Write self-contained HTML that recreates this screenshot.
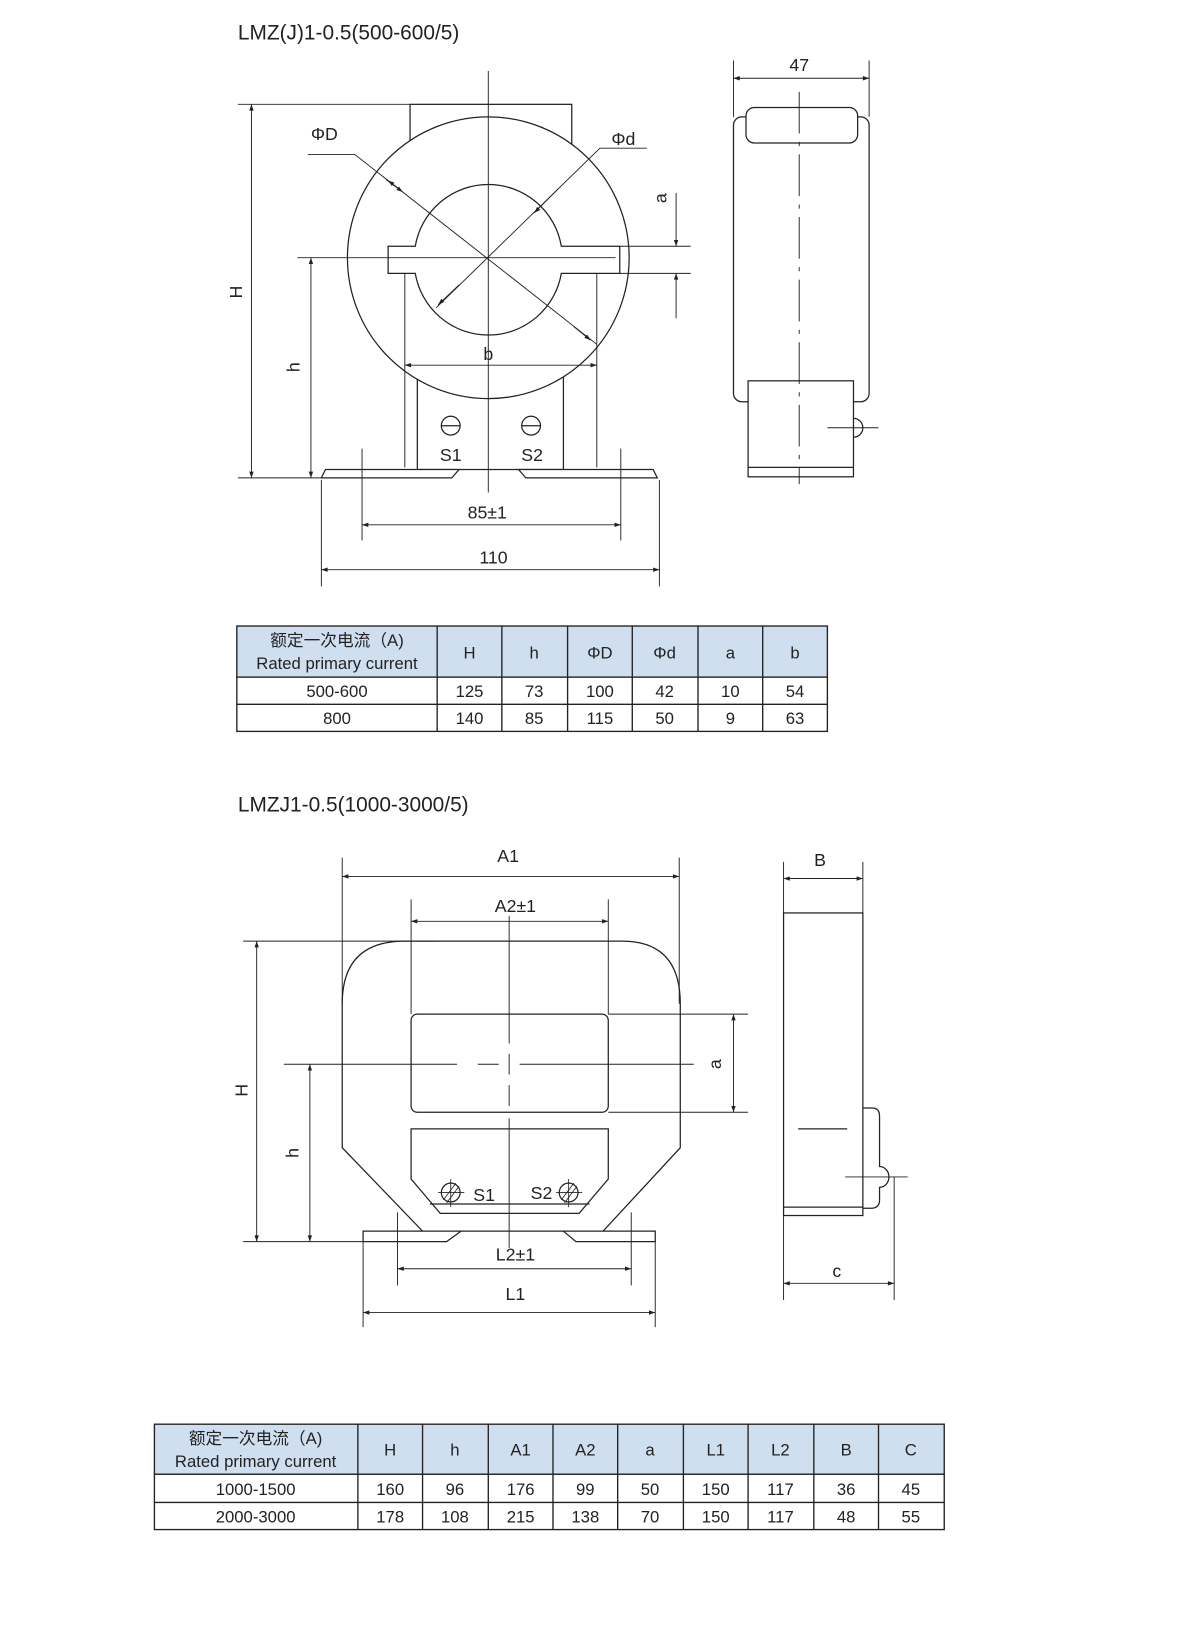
<!DOCTYPE html>
<html><head><meta charset="utf-8"><style>
html,body{margin:0;padding:0;background:#fff;}
svg{display:block;}
text{font-family:"Liberation Sans","Noto Sans CJK SC",sans-serif;fill:#222;}
</style></head><body>
<svg width="1179" height="1636" viewBox="0 0 1130 1568" preserveAspectRatio="none" xmlns="http://www.w3.org/2000/svg">
<defs>
<marker id="ar" viewBox="0 0 10 10" refX="10" refY="5" markerWidth="10" markerHeight="6" orient="auto-start-reverse" markerUnits="userSpaceOnUse"><path d="M0,1.5 L10,5 L0,8.5 Z" fill="#222"/></marker>
</defs>
<g stroke="#222" stroke-width="1.2" fill="none">
<!-- ===== Drawing 1 ===== -->
<rect x="393" y="100" width="155" height="60" fill="#fff"/>
<rect x="400" y="350" width="140" height="100" fill="#fff"/>
<circle cx="468" cy="247" r="135" fill="#fff"/>
<path d="M398,236 A71 71 0 0 1 538,236 L594,236 L594,262 L538,262 A71 71 0 0 1 398,262 L372,262 L372,236 Z" fill="#fff"/>
<circle cx="432" cy="408" r="9"/><line x1="423" y1="408" x2="441" y2="408"/>
<circle cx="509" cy="408" r="9"/><line x1="500" y1="408" x2="518" y2="408"/>
<path d="M308,458 L312,450 L440,450 L433,458 Z" fill="#fff"/>
<path d="M497,450 L626,450 L630,458 L504,458 Z" fill="#fff"/>
<line x1="468" y1="68" x2="468" y2="472" stroke-width="0.9"/>
<line x1="285" y1="247" x2="590" y2="247" stroke-width="0.9"/>
<!-- H -->
<line x1="228" y1="100" x2="393" y2="100" stroke-width="0.9"/>
<line x1="228" y1="458" x2="308" y2="458" stroke-width="0.9"/>
<line x1="241" y1="100" x2="241" y2="458" marker-start="url(#ar)" marker-end="url(#ar)" stroke-width="0.9"/>
<line x1="298" y1="247" x2="298" y2="458" marker-start="url(#ar)" marker-end="url(#ar)" stroke-width="0.9"/>
<!-- ΦD -->
<polyline points="295,148 340,148 572,330" stroke-width="0.9"/>
<line x1="385" y1="183" x2="372" y2="173" marker-end="url(#ar)" stroke-width="0.9"/>
<line x1="370" y1="172" x2="386" y2="184" marker-end="url(#ar)" stroke-width="0.9"/>
<line x1="550" y1="313" x2="566" y2="326" marker-end="url(#ar)" stroke-width="0.9"/>
<!-- Φd -->
<polyline points="620,142 575,142 418,295" stroke-width="0.9"/>
<line x1="535" y1="181" x2="512" y2="204" marker-end="url(#ar)" stroke-width="0.9"/>
<line x1="440" y1="273" x2="420" y2="292" marker-end="url(#ar)" stroke-width="0.9"/>
<!-- a -->
<line x1="594" y1="236" x2="662" y2="236" stroke-width="0.9"/>
<line x1="594" y1="262" x2="662" y2="262" stroke-width="0.9"/>
<line x1="648" y1="185" x2="648" y2="236" marker-end="url(#ar)" stroke-width="0.9"/>
<line x1="648" y1="305" x2="648" y2="262" marker-end="url(#ar)" stroke-width="0.9"/>
<!-- b -->
<line x1="388" y1="262" x2="388" y2="448" stroke-width="0.9"/>
<line x1="572" y1="262" x2="572" y2="448" stroke-width="0.9"/>
<line x1="388" y1="350" x2="572" y2="350" marker-start="url(#ar)" marker-end="url(#ar)" stroke-width="0.9"/>
<!-- 85 -->
<line x1="347" y1="430" x2="347" y2="518" stroke-width="0.9"/>
<line x1="595" y1="430" x2="595" y2="518" stroke-width="0.9"/>
<line x1="347" y1="503" x2="595" y2="503" marker-start="url(#ar)" marker-end="url(#ar)" stroke-width="0.9"/>
<!-- 110 -->
<line x1="308" y1="460" x2="308" y2="562" stroke-width="0.9"/>
<line x1="632" y1="460" x2="632" y2="562" stroke-width="0.9"/>
<line x1="308" y1="546" x2="632" y2="546" marker-start="url(#ar)" marker-end="url(#ar)" stroke-width="0.9"/>
<!-- side view 1 -->
<line x1="703" y1="58" x2="703" y2="112" stroke-width="0.9"/>
<line x1="833" y1="58" x2="833" y2="112" stroke-width="0.9"/>
<line x1="703" y1="75" x2="833" y2="75" marker-start="url(#ar)" marker-end="url(#ar)" stroke-width="0.9"/>
<rect x="703" y="112" width="130" height="273" rx="8" fill="#fff"/>
<rect x="715" y="103" width="107" height="34" rx="8" fill="#fff"/>
<rect x="717" y="365" width="101" height="92" fill="#fff"/>
<line x1="717" y1="448" x2="818" y2="448"/>
<path d="M818,401 A9 9 0 0 1 818,419"/>
<line x1="793" y1="410" x2="842" y2="410" stroke-width="0.9"/>
<line x1="766" y1="88" x2="766" y2="464" stroke-width="0.9" stroke-dasharray="40,8,4,8"/>

<!-- ===== Drawing 2 ===== -->
<path d="M328,1100 L328,962 Q328,902 388,902 L596,902 Q652,902 652,962 L652,1100 L578,1180 L405,1180 Z" fill="#fff"/>
<rect x="394" y="972" width="189" height="94" rx="6" fill="#fff"/>
<path d="M394,1082 L583,1082 L583,1130 L555,1163 L422,1163 L394,1130 Z" fill="#fff"/>
<line x1="412" y1="1154" x2="565" y2="1154"/>
<circle cx="432" cy="1143" r="9"/>
<line x1="420" y1="1143" x2="445" y2="1143" stroke-width="0.8"/><line x1="432" y1="1130" x2="432" y2="1157" stroke-width="0.8"/>
<line x1="425" y1="1150" x2="437" y2="1134" stroke-width="0.8"/><line x1="428" y1="1153" x2="440" y2="1137" stroke-width="0.8"/>
<circle cx="545" cy="1143" r="9"/>
<line x1="533" y1="1143" x2="558" y2="1143" stroke-width="0.8"/><line x1="545" y1="1130" x2="545" y2="1157" stroke-width="0.8"/>
<line x1="538" y1="1150" x2="550" y2="1134" stroke-width="0.8"/><line x1="541" y1="1153" x2="553" y2="1137" stroke-width="0.8"/>
<path d="M348,1180 L442,1180 L428,1190 L348,1190 Z" fill="#fff"/>
<path d="M540,1180 L628,1180 L628,1190 L552,1190 Z" fill="#fff"/>
<line x1="488" y1="878" x2="488" y2="1000" stroke-width="0.9"/>
<line x1="488" y1="1010" x2="488" y2="1030" stroke-width="0.9"/>
<line x1="488" y1="1040" x2="488" y2="1060" stroke-width="0.9"/>
<line x1="488" y1="1072" x2="488" y2="1196" stroke-width="0.9"/>
<line x1="272" y1="1020" x2="438" y2="1020" stroke-width="0.9"/>
<line x1="458" y1="1020" x2="478" y2="1020" stroke-width="0.9"/>
<line x1="498" y1="1020" x2="665" y2="1020" stroke-width="0.9"/>
<!-- A1 -->
<line x1="328" y1="822" x2="328" y2="962" stroke-width="0.9"/>
<line x1="651" y1="822" x2="651" y2="962" stroke-width="0.9"/>
<line x1="328" y1="840" x2="651" y2="840" marker-start="url(#ar)" marker-end="url(#ar)" stroke-width="0.9"/>
<!-- A2 -->
<line x1="394" y1="862" x2="394" y2="972" stroke-width="0.9"/>
<line x1="583" y1="862" x2="583" y2="972" stroke-width="0.9"/>
<line x1="394" y1="883" x2="583" y2="883" marker-start="url(#ar)" marker-end="url(#ar)" stroke-width="0.9"/>
<!-- H h -->
<line x1="233" y1="902" x2="420" y2="902" stroke-width="0.9"/>
<line x1="233" y1="1190" x2="348" y2="1190" stroke-width="0.9"/>
<line x1="246" y1="902" x2="246" y2="1190" marker-start="url(#ar)" marker-end="url(#ar)" stroke-width="0.9"/>
<line x1="297" y1="1020" x2="297" y2="1190" marker-start="url(#ar)" marker-end="url(#ar)" stroke-width="0.9"/>
<!-- a -->
<line x1="583" y1="972" x2="717" y2="972" stroke-width="0.9"/>
<line x1="583" y1="1066" x2="717" y2="1066" stroke-width="0.9"/>
<line x1="703" y1="972" x2="703" y2="1066" marker-start="url(#ar)" marker-end="url(#ar)" stroke-width="0.9"/>
<!-- L2 -->
<line x1="381" y1="1162" x2="381" y2="1232" stroke-width="0.9"/>
<line x1="605" y1="1162" x2="605" y2="1232" stroke-width="0.9"/>
<line x1="381" y1="1216" x2="605" y2="1216" marker-start="url(#ar)" marker-end="url(#ar)" stroke-width="0.9"/>
<!-- L1 -->
<line x1="348" y1="1190" x2="348" y2="1272" stroke-width="0.9"/>
<line x1="628" y1="1190" x2="628" y2="1272" stroke-width="0.9"/>
<line x1="348" y1="1258" x2="628" y2="1258" marker-start="url(#ar)" marker-end="url(#ar)" stroke-width="0.9"/>
<!-- side view 2 -->
<line x1="751" y1="826" x2="751" y2="1246" stroke-width="0.9"/>
<line x1="827" y1="826" x2="827" y2="875" stroke-width="0.9"/>
<line x1="751" y1="842" x2="827" y2="842" marker-start="url(#ar)" marker-end="url(#ar)" stroke-width="0.9"/>
<rect x="751" y="875" width="76" height="290" fill="#fff"/>
<line x1="751" y1="1157" x2="827" y2="1157"/>
<path d="M827,1062 L836,1062 Q843,1062 843,1070 L843,1118 A9 10 0 0 1 843,1138 L843,1150 Q843,1158 835,1158 L827,1158"/>
<line x1="765" y1="1082" x2="812" y2="1082"/>
<line x1="810" y1="1128" x2="870" y2="1128" stroke-width="0.9"/>
<line x1="857" y1="1128" x2="857" y2="1246" stroke-width="0.9"/>
<line x1="751" y1="1230" x2="857" y2="1230" marker-start="url(#ar)" marker-end="url(#ar)" stroke-width="0.9"/>
</g>
<!-- labels -->
<g font-size="17">
<text x="228" y="38" font-size="20">LMZ(J)1-0.5(500-600/5)</text>
<text x="298" y="134">ΦD</text>
<text x="586" y="139">Φd</text>
<text x="766" y="68" text-anchor="middle">47</text>
<text x="468" y="345" text-anchor="middle">b</text>
<text x="432" y="442" text-anchor="middle">S1</text>
<text x="510" y="442" text-anchor="middle">S2</text>
<text x="467" y="497" text-anchor="middle">85±1</text>
<text x="473" y="540" text-anchor="middle">110</text>
<text transform="translate(232,280) rotate(-90)" text-anchor="middle">H</text>
<text transform="translate(287,352) rotate(-90)" text-anchor="middle">h</text>
<text transform="translate(639,190) rotate(-90)" text-anchor="middle">a</text>

<text x="228" y="778" font-size="20">LMZJ1-0.5(1000-3000/5)</text>
<text x="487" y="826" text-anchor="middle">A1</text>
<text x="494" y="874" text-anchor="middle">A2±1</text>
<text x="786" y="830" text-anchor="middle">B</text>
<text x="464" y="1151" text-anchor="middle">S1</text>
<text x="519" y="1149" text-anchor="middle">S2</text>
<text x="494" y="1208" text-anchor="middle">L2±1</text>
<text x="494" y="1246" text-anchor="middle">L1</text>
<text x="802" y="1224" text-anchor="middle">c</text>
<text transform="translate(237,1045) rotate(-90)" text-anchor="middle">H</text>
<text transform="translate(286,1105) rotate(-90)" text-anchor="middle">h</text>
<text transform="translate(691,1020) rotate(-90)" text-anchor="middle">a</text>
</g>

<!-- Table 1 -->
<g stroke="#222" stroke-width="1.3">
<rect x="227" y="600" width="566" height="49" fill="#cfdff0"/>
<rect x="227" y="649" width="566" height="52" fill="#fff"/>
<line x1="227" y1="675" x2="793" y2="675"/>
<line x1="419" y1="600" x2="419" y2="701"/><line x1="481" y1="600" x2="481" y2="701"/>
<line x1="544" y1="600" x2="544" y2="701"/><line x1="606" y1="600" x2="606" y2="701"/>
<line x1="669" y1="600" x2="669" y2="701"/><line x1="731" y1="600" x2="731" y2="701"/>
</g>
<g font-size="16" text-anchor="middle">
<text x="323" y="619">额定一次电流（A)</text>
<text x="323" y="641">Rated primary current</text>
<text x="450" y="631">H</text><text x="512" y="631">h</text><text x="575" y="631">ΦD</text>
<text x="637" y="631">Φd</text><text x="700" y="631">a</text><text x="762" y="631">b</text>
<text x="323" y="668">500-600</text><text x="450" y="668">125</text><text x="512" y="668">73</text>
<text x="575" y="668">100</text><text x="637" y="668">42</text><text x="700" y="668">10</text><text x="762" y="668">54</text>
<text x="323" y="694">800</text><text x="450" y="694">140</text><text x="512" y="694">85</text>
<text x="575" y="694">115</text><text x="637" y="694">50</text><text x="700" y="694">9</text><text x="762" y="694">63</text>
</g>

<!-- Table 2 -->
<g stroke="#222" stroke-width="1.3">
<rect x="148" y="1365" width="757" height="48" fill="#cfdff0"/>
<rect x="148" y="1413" width="757" height="53" fill="#fff"/>
<line x1="148" y1="1440" x2="905" y2="1440"/>
<line x1="343" y1="1365" x2="343" y2="1466"/><line x1="405" y1="1365" x2="405" y2="1466"/>
<line x1="468" y1="1365" x2="468" y2="1466"/><line x1="530" y1="1365" x2="530" y2="1466"/>
<line x1="592" y1="1365" x2="592" y2="1466"/><line x1="655" y1="1365" x2="655" y2="1466"/>
<line x1="717" y1="1365" x2="717" y2="1466"/><line x1="780" y1="1365" x2="780" y2="1466"/>
<line x1="842" y1="1365" x2="842" y2="1466"/>
</g>
<g font-size="16" text-anchor="middle">
<text x="245" y="1384">额定一次电流（A)</text>
<text x="245" y="1406">Rated primary current</text>
<text x="374" y="1395">H</text><text x="436" y="1395">h</text><text x="499" y="1395">A1</text>
<text x="561" y="1395">A2</text><text x="623" y="1395">a</text><text x="686" y="1395">L1</text>
<text x="748" y="1395">L2</text><text x="811" y="1395">B</text><text x="873" y="1395">C</text>
<text x="245" y="1433">1000-1500</text><text x="374" y="1433">160</text><text x="436" y="1433">96</text>
<text x="499" y="1433">176</text><text x="561" y="1433">99</text><text x="623" y="1433">50</text>
<text x="686" y="1433">150</text><text x="748" y="1433">117</text><text x="811" y="1433">36</text><text x="873" y="1433">45</text>
<text x="245" y="1459">2000-3000</text><text x="374" y="1459">178</text><text x="436" y="1459">108</text>
<text x="499" y="1459">215</text><text x="561" y="1459">138</text><text x="623" y="1459">70</text>
<text x="686" y="1459">150</text><text x="748" y="1459">117</text><text x="811" y="1459">48</text><text x="873" y="1459">55</text>
</g>
</svg>
</body></html>
